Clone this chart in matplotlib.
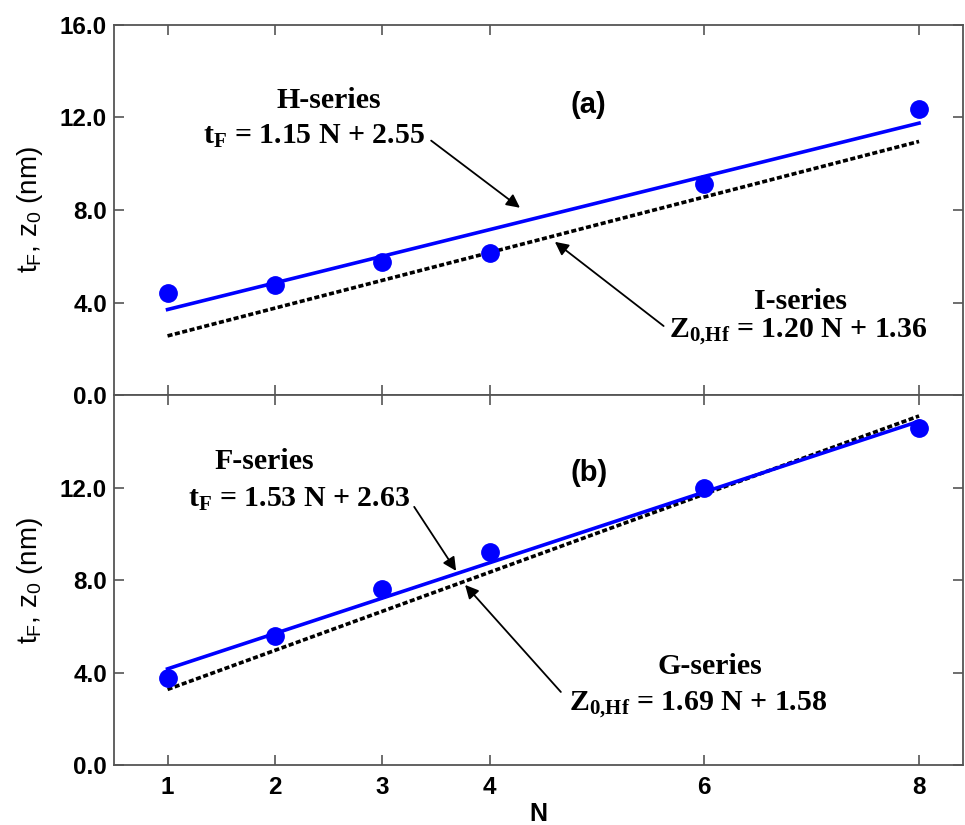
import matplotlib
matplotlib.use("Agg")
import matplotlib.pyplot as plt
import numpy as np

plt.rcParams['font.family'] = ['Liberation Sans', 'DejaVu Sans']
plt.rcParams['mathtext.fontset'] = 'custom'
plt.rcParams['mathtext.rm'] = 'Liberation Serif:bold'
plt.rcParams['mathtext.sf'] = 'Liberation Sans'

# Data
N_pts = [1, 2, 3, 4, 6, 8]
a_points = [4.41, 4.76, 5.76, 6.15, 9.13, 12.38]
b_points = [3.77, 5.58, 7.62, 9.22, 11.99, 14.59]
fit_N = [1, 8]
fitH = (1.15, 2.55)
fitI = (1.20, 1.36)
fitF = (1.53, 2.63)
fitG = (1.69, 1.58)
xticks = [1, 2, 3, 4, 6, 8]
yticks = [0, 4, 8, 12, 16]

BLUE = '#0000FF'
GRAY = '#555555'

fig = plt.figure(figsize=(9.65, 8.25), dpi=100)
ax1 = fig.add_axes([0.118, 0.521, 0.880, 0.449])
ax2 = fig.add_axes([0.118, 0.0727, 0.880, 0.4483])

def line(ax, fit, **kw):
    xs = np.array(fit_N, dtype=float)
    ax.plot(xs, fit[0] * xs + fit[1], **kw)

for ax, pts, fb, fk in [(ax1, a_points, fitH, fitI), (ax2, b_points, fitF, fitG)]:
    line(ax, fk, color='black', lw=2.6, linestyle=(0, (1.4, 0.7)), zorder=2)
    line(ax, fb, color=BLUE, lw=2.6, zorder=3)
    ax.plot(N_pts, pts, 'o', color=BLUE, ms=12.5, zorder=4, mec=BLUE)
    ax.set_xlim(0.5, 8.41)
    ax.set_ylim(0, 16)
    ax.set_xticks(xticks)
    ax.set_yticks(yticks)
    ax.tick_params(direction='in', length=7, width=1.2, color=GRAY,
                   top=True, right=True, labelsize=17.5)
    ax.tick_params(axis='x', pad=8)
    ax.tick_params(axis='y', pad=5)
    for s in ax.spines.values():
        s.set_color(GRAY)
        s.set_linewidth(1.3)
    ax.set_ylabel(r'$\mathsf{t_F}$, $\mathsf{z_0}$ (nm)', fontsize=20)
    ax.yaxis.set_label_coords(-0.081, 0.5)

ax1.set_yticklabels(['0.0', '4.0', '8.0', '12.0', '16.0'], fontweight='bold')
ax2.set_yticklabels(['0.0', '4.0', '8.0', '12.0', ''], fontweight='bold')
ax1.tick_params(labelbottom=False)
ax2.set_xticklabels([str(v) for v in xticks], fontweight='bold')
ax2.set_xlabel('N', fontsize=18, fontweight='bold', labelpad=2)

serif = dict(family=['Liberation Serif', 'DejaVu Serif'], fontweight='bold', fontsize=21.5, ha='center', va='center')
arrow = dict(arrowstyle='-|>', color='black', lw=1.3, mutation_scale=20, shrinkA=0, shrinkB=0)

# Panel (a)
ax1.text(0.5 + (329 - 114) / 107.6, (395 - 101) / 23.1, 'H-series', **serif)
ax1.text(0.5 + (315 - 114) / 107.6, (395 - 137) / 23.1, r'$\mathrm{t_F}$ = 1.15 N + 2.55', **serif)
ax1.annotate('', xy=(0.5 + (521 - 114) / 107.6, (395 - 208) / 23.1),
             xytext=(0.5 + (432 - 114) / 107.6, (395 - 141) / 23.1), arrowprops=arrow)
ax1.annotate('', xy=(0.5 + (556 - 114) / 107.6, (395 - 242) / 23.1),
             xytext=(0.5 + (665 - 114) / 107.6, (395 - 326) / 23.1), arrowprops=arrow)
ax1.text(0.5 + (802 - 114) / 107.6, (395 - 302) / 23.1, 'I-series', **serif)
ax1.text(0.5 + (800 - 114) / 107.6, (395 - 332) / 23.1, r'$\mathrm{Z_{0{,}Hf}}$ = 1.20 N + 1.36', **serif)
ax1.text(0.5 + (590 - 114) / 107.6, (395 - 105) / 23.1, '(a)', fontsize=21, fontweight='bold', ha='center', va='center')

# Panel (b)
ax2.text(0.5 + (265 - 114) / 107.6, (765 - 462) / 23.1, 'F-series', **serif)
ax2.text(0.5 + (300 - 114) / 107.6, (765 - 500) / 23.1, r'$\mathrm{t_F}$ = 1.53 N + 2.63', **serif)
ax2.annotate('', xy=(0.5 + (457 - 114) / 107.6, (765 - 571) / 23.1),
             xytext=(0.5 + (415 - 114) / 107.6, (765 - 507) / 23.1), arrowprops=arrow)
ax2.annotate('', xy=(0.5 + (466 - 114) / 107.6, (765 - 585) / 23.1),
             xytext=(0.5 + (562 - 114) / 107.6, (765 - 692) / 23.1), arrowprops=arrow)
ax2.text(0.5 + (711 - 114) / 107.6, (765 - 667) / 23.1, 'G-series', **serif)
ax2.text(0.5 + (700 - 114) / 107.6, (765 - 705) / 23.1, r'$\mathrm{Z_{0{,}Hf}}$ = 1.69 N + 1.58', **serif)
ax2.text(0.5 + (590 - 114) / 107.6, (765 - 473) / 23.1, '(b)', fontsize=21, fontweight='bold', ha='center', va='center')

fig.savefig('out.png', dpi=100)
